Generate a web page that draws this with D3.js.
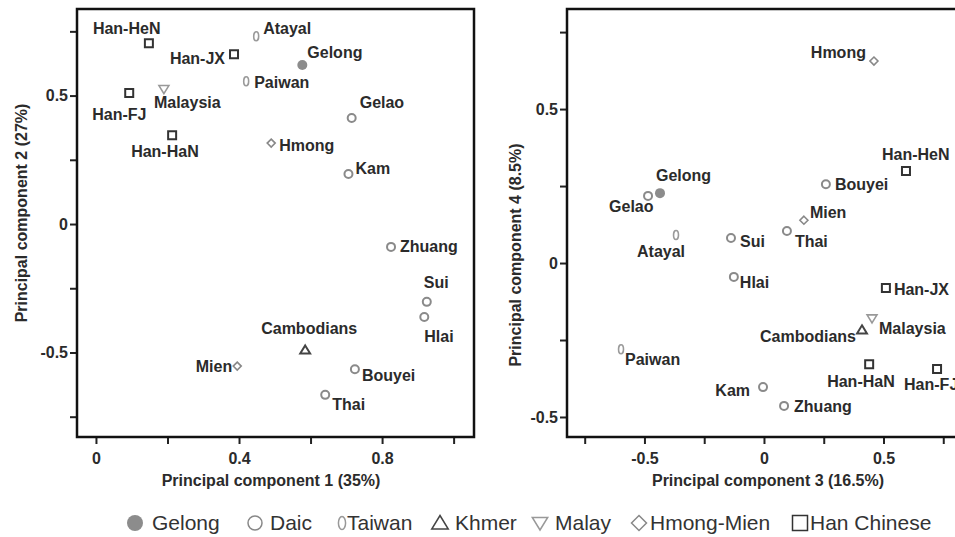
<!DOCTYPE html>
<html>
<head>
<meta charset="utf-8">
<script src="https://cdn.jsdelivr.net/npm/d3@7"></script>
<style>
	body { margin: 0; background: #fff; }
	svg { display: block; font-family: "Liberation Sans", Arial, sans-serif; }
	.lbl { font-weight: bold; font-size: 16px; fill: #2b2b2b; }
	.axis text { font-weight: bold; font-size: 16px; fill: #2b2b2b; font-family: "Liberation Sans", Arial, sans-serif; }
	.axis line { stroke: #222; stroke-width: 2; }
	.title { font-weight: bold; font-size: 16px; fill: #2b2b2b; }
	.legend text { font-size: 21px; fill: #333; }
</style>
</head>
<body>
<svg></svg>
<script>
//* Data
const populations = ["Gelong", "Gelao", "Kam", "Zhuang", "Sui", "Hlai", "Bouyei", "Thai", "Atayal", "Paiwan",
	"Cambodians", "Malaysia", "Hmong", "Mien", "Han-HeN", "Han-JX", "Han-FJ", "Han-HaN"];
const groups = ["Gelong", "Daic", "Daic", "Daic", "Daic", "Daic", "Daic", "Daic", "Taiwan", "Taiwan",
	"Khmer", "Malay", "Hmong-Mien", "Hmong-Mien", "Han Chinese", "Han Chinese", "Han Chinese", "Han Chinese"];
const pc1 = [0.577, 0.715, 0.706, 0.825, 0.925, 0.918, 0.724, 0.641, 0.448, 0.42, 0.585, 0.19, 0.49, 0.395, 0.148, 0.386, 0.093, 0.213];
const pc2 = [0.619, 0.413, 0.195, -0.089, -0.303, -0.362, -0.565, -0.665, 0.731, 0.556, -0.49, 0.525, 0.315, -0.553, 0.704, 0.661, 0.51, 0.346];
const pc3 = [-0.435, -0.485, -0.004, 0.084, -0.138, -0.126, 0.259, 0.096, -0.368, -0.598, 0.41, 0.452, 0.46, 0.167, 0.594, 0.51, 0.724, 0.44];
const pc4 = [0.227, 0.218, -0.403, -0.464, 0.081, -0.045, 0.256, 0.104, 0.091, -0.28, -0.217, -0.18, 0.656, 0.139, 0.299, -0.081, -0.344, -0.329];
const legendGroups = ["Gelong", "Daic", "Taiwan", "Khmer", "Malay", "Hmong-Mien", "Han Chinese"];

const leftXTicks = [0, 0.2, 0.4, 0.6, 0.8, 1.0];
const leftXLabels = [0, 0.4, 0.8];
const leftYTicks = [-0.75, -0.5, -0.25, 0, 0.25, 0.5, 0.75];
const rightXTicks = [-0.75, -0.5, -0.25, 0, 0.25, 0.5, 0.75];
const rightXLabels = [-0.5, 0, 0.5];
const rightYTicks = [-0.5, -0.25, 0, 0.25, 0.5, 0.75];
const yLabels = [-0.5, 0, 0.5];

//* label placement [dx, dy, anchor]
const labelsLeft = {
	"Han-HeN": [-56, -9, "start"], "Han-JX": [-9, 10, "end"], "Atayal": [7, -2, "start"], "Gelong": [5, -7, "start"],
	"Paiwan": [8, 7, "start"], "Han-FJ": [-37, 27, "start"], "Malaysia": [-10, 19, "start"], "Gelao": [8, -10, "start"],
	"Han-HaN": [-41, 22, "start"], "Hmong": [8, 8, "start"], "Kam": [7, 0, "start"], "Zhuang": [9, 5, "start"],
	"Sui": [-3, -14, "start"], "Hlai": [0, 25, "start"], "Cambodians": [-44, -16, "start"], "Mien": [-5, 6, "end"],
	"Bouyei": [7, 12, "start"], "Thai": [7, 15, "start"]
};
const labelsRight = {
	"Hmong": [-8, -3, "end"], "Han-HeN": [-24, -11, "start"], "Bouyei": [9, 6, "start"], "Gelong": [-4, -12, "start"],
	"Gelao": [-39, 16, "start"], "Mien": [6, -2, "start"], "Thai": [8, 16, "start"], "Atayal": [-39, 22, "start"],
	"Sui": [9, 9, "start"], "Hlai": [6, 11, "start"], "Han-JX": [8, 7, "start"], "Malaysia": [7, 16, "start"],
	"Cambodians": [-6, 12, "end"], "Paiwan": [4, 16, "start"], "Han-HaN": [-42, 23, "start"], "Han-FJ": [-33, 21, "start"],
	"Kam": [-13, 9, "end"], "Zhuang": [10, 6, "start"]
};

//* marker styles
const styles = {
	"Gelong": { fill: "#8c8c8c", stroke: "none", sw: 0, legendStroke: "none" },
	"Daic": { fill: "none", stroke: "#8a8a8a", sw: 2, legendStroke: "#888" },
	"Taiwan": { fill: "none", stroke: "#9a9a9a", sw: 1.6, legendStroke: "#999" },
	"Khmer": { fill: "none", stroke: "#444", sw: 2, legendStroke: "#444" },
	"Malay": { fill: "none", stroke: "#999", sw: 1.6, legendStroke: "#999" },
	"Hmong-Mien": { fill: "none", stroke: "#888", sw: 1.6, legendStroke: "#888" },
	"Han Chinese": { fill: "none", stroke: "#333", sw: 2, legendStroke: "#333" }
};

function shape(group, s) {
	// s = half size
	if (group === "Gelong" || group === "Daic") {
		return `M${-s},0A${s},${s} 0 1,0 ${s},0A${s},${s} 0 1,0 ${-s},0Z`;
	}
	if (group === "Taiwan") {
		const rx = s * 0.55, ry = s;
		return `M${-rx},0A${rx},${ry} 0 1,0 ${rx},0A${rx},${ry} 0 1,0 ${-rx},0Z`;
	}
	if (group === "Khmer") return `M0,${-s}L${s * 1.1},${s * 0.8}L${-s * 1.1},${s * 0.8}Z`;
	if (group === "Malay") return `M0,${s}L${s * 1.1},${-s * 0.8}L${-s * 1.1},${-s * 0.8}Z`;
	if (group === "Hmong-Mien") return `M0,${-s}L${s},0L0,${s}L${-s},0Z`;
	return `M${-s},${-s}H${s}V${s}H${-s}Z`;
}
const markerSize = { "Gelong": 5, "Daic": 4, "Taiwan": 4.5, "Khmer": 4.5, "Malay": 4.5, "Hmong-Mien": 4, "Han Chinese": 4 };

const svg = d3.select("svg").attr("width", 955).attr("height", 537);

const panels = [
	{
		xs: d3.scaleLinear().domain([-0.053, 1.057]).range([77, 474]),
		ys: d3.scaleLinear().domain([-0.829, 0.837]).range([437, 9]),
		xv: pc1, yv: pc2, xTicks: leftXTicks, xLabels: leftXLabels, yTicks: leftYTicks,
		labels: labelsLeft, xTitle: "Principal component 1 (35%)", yTitle: "Principal component 2 (27%)",
		xTitleX: 271, yTitleX: 27, yTitleY: 213
	},
	{
		xs: d3.scaleLinear().domain([-0.824, 0.82]).range([567, 960]),
		ys: d3.scaleLinear().domain([-0.565, 0.825]).range([437, 9]),
		xv: pc3, yv: pc4, xTicks: rightXTicks, xLabels: rightXLabels, yTicks: rightYTicks,
		labels: labelsRight, xTitle: "Principal component 3 (16.5%)", yTitle: "Principal component 4 (8.5%)",
		xTitleX: 768, yTitleX: 521, yTitleY: 255
	}
];

panels.forEach((p) => {
	const [x0, x1] = p.xs.range();
	const [y1, y0] = p.ys.range();
	const g = svg.append("g");

	//* axes
	g.append("g")
		.attr("class", "axis")
		.attr("transform", `translate(0, ${y1})`)
		.call(d3.axisBottom(p.xs).tickValues(p.xTicks).tickSize(7).tickPadding(9)
			.tickFormat((d) => (p.xLabels.includes(d) ? String(d) : "")))
		.call((a) => a.select(".domain").remove());
	g.append("g")
		.attr("class", "axis")
		.attr("transform", `translate(${x0}, 0)`)
		.call(d3.axisLeft(p.ys).tickValues(p.yTicks).tickSize(7).tickPadding(2)
			.tickFormat((d) => (yLabels.includes(d) ? String(d) : "")))
		.call((a) => a.select(".domain").remove());

	//* frame
	g.append("rect")
		.attr("x", x0).attr("y", y0)
		.attr("width", x1 - x0).attr("height", y1 - y0)
		.attr("fill", "none").attr("stroke", "#111").attr("stroke-width", 2.5);

	//* titles
	g.append("text").attr("class", "title")
		.attr("x", p.xTitleX).attr("y", 486).attr("text-anchor", "middle")
		.text(p.xTitle);
	g.append("text").attr("class", "title")
		.attr("transform", `translate(${p.yTitleX}, ${p.yTitleY}) rotate(-90)`)
		.attr("text-anchor", "middle")
		.text(p.yTitle);

	//* points
	const pts = g.selectAll("g.pt")
		.data(populations.map((name, i) => ({ name, group: groups[i], x: p.xv[i], y: p.yv[i] })))
		.enter()
		.append("g")
		.attr("class", "pt")
		.attr("transform", (d) => `translate(${p.xs(d.x)}, ${p.ys(d.y)})`);
	pts.append("path")
		.attr("d", (d) => shape(d.group, markerSize[d.group]))
		.attr("fill", (d) => styles[d.group].fill)
		.attr("stroke", (d) => styles[d.group].stroke)
		.attr("stroke-width", (d) => styles[d.group].sw);
	pts.append("text")
		.attr("class", "lbl")
		.attr("x", (d) => p.labels[d.name][0])
		.attr("y", (d) => p.labels[d.name][1])
		.attr("text-anchor", (d) => p.labels[d.name][2])
		.text((d) => d.name);
});

//* Legend
const legendSym = [135, 255, 342, 440, 540, 639, 800];
const legendTxt = [152, 270, 347, 455, 555, 650, 810];
const legendSize = { "Gelong": 8, "Daic": 7, "Taiwan": 6.5, "Khmer": 7.5, "Malay": 7, "Hmong-Mien": 7.5, "Han Chinese": 7.5 };
const legend = svg.append("g").attr("class", "legend");
legendGroups.forEach((grp, i) => {
	const st = styles[grp];
	legend.append("path")
		.attr("transform", `translate(${legendSym[i]}, 523)`)
		.attr("d", shape(grp, legendSize[grp]))
		.attr("fill", st.fill)
		.attr("stroke", st.legendStroke)
		.attr("stroke-width", 1.5);
	legend.append("text")
		.attr("x", legendTxt[i]).attr("y", 530)
		.text(grp);
});
</script>
</body>
</html>
